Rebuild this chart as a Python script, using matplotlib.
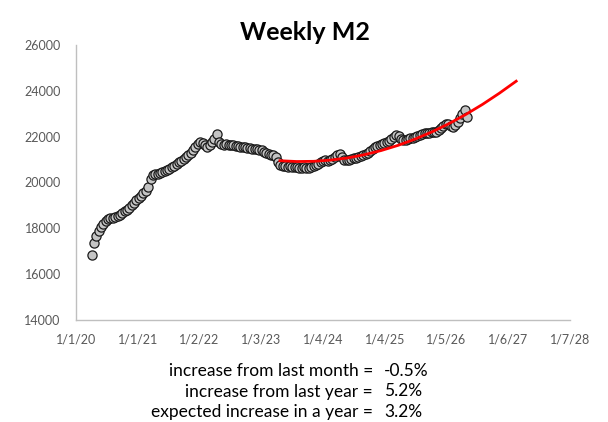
import numpy as np
import pandas as pd
from matplotlib import pyplot as plt
import matplotlib.dates as mdates

plt.rcParams['font.family'] = ['Lato', 'DejaVu Sans']

# M2 (billions), read every two weeks from 2 Apr 2020
m2 = [
    16850, 17380, 17650, 17870, 18050, 18180, 18300, 18390, 18430, 18470,
    18490, 18520, 18580, 18650, 18740, 18800, 18900, 19000, 19120, 19230,
    19320, 19420, 19530, 19640, 19800, 20150, 20330, 20360, 20380, 20400,
    20440, 20500, 20560, 20610, 20670, 20740, 20800, 20880, 20950, 21030,
    21110, 21200, 21290, 21400, 21560, 21680, 21760, 21740, 21620, 21560,
    21640, 21780, 21900, 22130, 21780, 21680, 21650, 21660, 21640, 21620,
    21630, 21600, 21580, 21560, 21540, 21530, 21500, 21490, 21470, 21450,
    21440, 21430, 21410, 21330, 21270, 21240, 21220, 21190, 21130, 20900,
    20780, 20720, 20700, 20690, 20700, 20680, 20690, 20660, 20650, 20640,
    20660, 20640, 20630, 20660, 20700, 20760, 20820, 20890, 20950, 20960,
    20930, 20960, 21020, 21100, 21180, 21260, 21120, 21000, 20960, 20990,
    21030, 21060, 21090, 21120, 21160, 21210, 21260, 21300, 21380, 21450,
    21530, 21590, 21640, 21690, 21720, 21760, 21810, 21880, 21980, 22080,
    22050, 21900, 21860, 21850, 21880, 21920, 21960, 22000, 22050, 22090,
    22130, 22150, 22170, 22160, 22190, 22200, 22220, 22290, 22380, 22470,
    22570, 22540, 22460, 22430, 22520, 22650, 22820, 23000, 23150, 22850,
]
start_date = '2020-04-02'

# red trend line, read every 100 days from 24 Apr 2023
trend = [20950, 20915, 20924, 20977, 21072, 21212, 21395, 21621,
         21892, 22205, 22562, 22963, 23406, 23894, 24420]
trend_start = '2023-04-24'

tick_labels = ['1/1/20', '1/1/21', '1/2/22', '1/3/23', '1/4/24',
               '1/4/25', '1/5/26', '1/6/27', '1/7/28']
stat_labels = ['increase from last month =', 'increase from last year =',
               'expected increase in a year =']
stat_values = ['-0.5%', '5.2%', '3.2%']

dates = pd.date_range(start_date, periods=len(m2), freq='14D')
trend_dates = pd.date_range(trend_start, periods=len(trend), freq='100D')

fig = plt.figure(figsize=(6.08, 4.22), dpi=100)
ax = fig.add_axes([0.125, 0.2417, 0.8125, 0.6517])

ax.plot(mdates.date2num(dates), m2, linestyle='none', marker='o', markersize=6.6,
        markerfacecolor='#c4c4c4', markeredgecolor='#1a1a1a', markeredgewidth=0.9)
ax.plot(mdates.date2num(trend_dates), trend, color='#ff0000', linewidth=2.0)

ticks = mdates.date2num(pd.date_range('2020-01-01', periods=len(tick_labels), freq='366D'))
ax.set_xlim(ticks[0], ticks[-1])
ax.set_xticks(ticks)
ax.set_xticklabels(tick_labels)
ax.set_ylim(14000, 26000)
ax.set_yticks(range(14000, 26001, 2000))

for side in ['top', 'right']:
    ax.spines[side].set_visible(False)
for side in ['left', 'bottom']:
    ax.spines[side].set_color('#bfbfbf')
    ax.spines[side].set_linewidth(1.0)
ax.tick_params(axis='both', length=0, labelsize=9, colors='#595959')
ax.tick_params(axis='x', pad=10)
ax.tick_params(axis='y', pad=11)

fig.text(0.502, 0.924, 'Weekly M2', ha='center', va='center',
         fontsize=18, fontweight='bold', color='black')

for i, (lab, val) in enumerate(zip(stat_labels, stat_values)):
    yy = 1 - (376 + 20.5 * i) / 422
    fig.text(373 / 608, yy, lab, ha='right', va='baseline', fontsize=12.5, color='black')
    fig.text(384 / 608, yy, val, ha='left', va='baseline', fontsize=12.5, color='black')

fig.savefig('out.png', dpi=100)
